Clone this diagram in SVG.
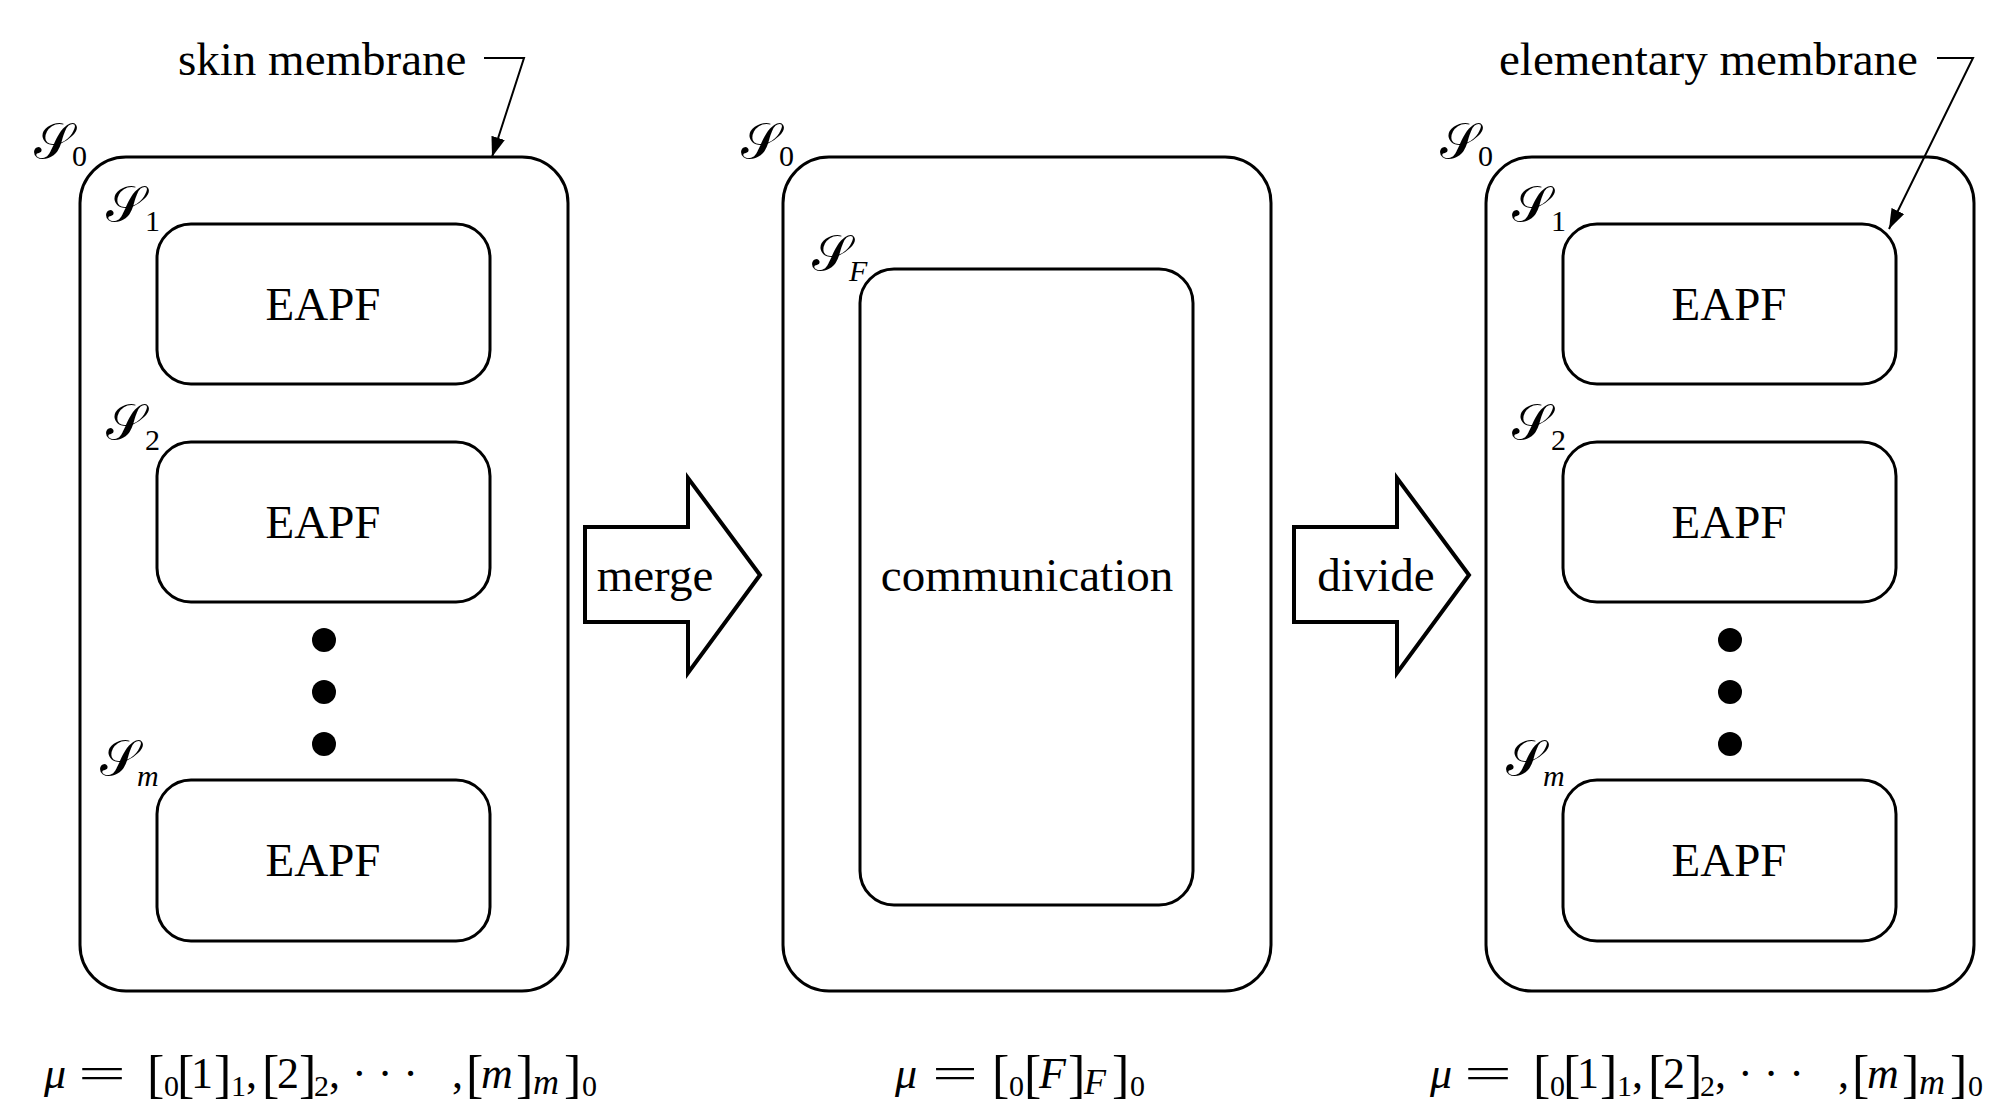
<svg xmlns="http://www.w3.org/2000/svg" width="1992" height="1106" viewBox="0 0 1992 1106">
  <style>
    .mem { fill: none; stroke: #000; stroke-width: 3; }
    .blk { fill: #fff; stroke: #000; stroke-width: 4; stroke-linejoin: miter; }
    .ptr { fill: none; stroke: #000; stroke-width: 2; }
    .lbl { font-family: "Liberation Serif", "Times New Roman", serif; font-size: 47px; fill: #000; }
    .mid { text-anchor: middle; }
    .cal { font-family: "DejaVu Serif", "Liberation Serif", serif; font-size: 50px; fill: #000; }
    .sub { font-family: "Liberation Serif", serif; font-size: 30px; fill: #000; }
    .it { font-style: italic; }
    .math { font-family: "Liberation Serif", serif; font-size: 44px; fill: #000; }
    .msub { font-family: "Liberation Serif", serif; font-size: 30px; fill: #000; }
    .msub-l { font-family: "Liberation Serif", serif; font-size: 36px; font-style: italic; fill: #000; }
    .br { font-family: "Liberation Serif", serif; font-size: 52px; fill: #000; }
    .dot { fill: #000; }
  </style>
  <defs>
    <marker id="tip" viewBox="0 0 20 14" refX="20" refY="7" markerWidth="20" markerHeight="14" markerUnits="userSpaceOnUse" orient="auto">
      <path d="M0,0 L20,7 L0,14 Z" fill="#000"/>
    </marker>
  </defs>
  <rect width="1992" height="1106" fill="#fff"/>

  <!-- left system: skin membrane with m elementary membranes -->
  <g id="left-skin">
    <rect class="mem" x="80" y="157" width="488" height="834" rx="46" ry="46"/>
    <text class="cal" x="34" y="158">𝒮</text><text class="sub" x="72" y="166">0</text>
  </g>
  <g id="left-s1">
    <rect class="mem" x="157" y="224" width="333" height="160" rx="34" ry="34"/>
    <text class="cal" x="106" y="221">𝒮</text><text class="sub" x="145" y="231">1</text>
    <text class="lbl mid" x="323" y="320">EAPF</text>
  </g>
  <g id="left-s2">
    <rect class="mem" x="157" y="442" width="333" height="160" rx="34" ry="34"/>
    <text class="cal" x="106" y="439">𝒮</text><text class="sub" x="145" y="450">2</text>
    <text class="lbl mid" x="323" y="538">EAPF</text>
  </g>
  <g id="left-dots">
    <circle class="dot" cx="324" cy="640" r="12"/>
    <circle class="dot" cx="324" cy="692" r="12"/>
    <circle class="dot" cx="324" cy="744" r="12"/>
  </g>
  <g id="left-sm">
    <rect class="mem" x="157" y="780" width="333" height="161" rx="34" ry="34"/>
    <text class="cal" x="100" y="775">𝒮</text><text class="sub it" x="137" y="786">m</text>
    <text class="lbl mid" x="323" y="876">EAPF</text>
  </g>
  <g id="left-formula">
    <text class="math it" x="44" y="1088">μ</text>
    <text class="math" x="78" y="1088" textLength="48" lengthAdjust="spacingAndGlyphs">=</text>
    <text class="br" x="147" y="1092">[</text><text class="msub" x="164" y="1096">0</text>
    <text class="br" x="177" y="1092">[</text><text class="math" x="191" y="1088">1</text>
    <text class="br" x="214" y="1092">]</text><text class="msub" x="231" y="1096">1</text>
    <text class="math" x="246" y="1088">,</text>
    <text class="br" x="262" y="1092">[</text><text class="math" x="277" y="1088">2</text>
    <text class="br" x="299" y="1092">]</text><text class="msub" x="314" y="1096">2</text>
    <text class="math" x="329" y="1088">,</text>
    <text class="math" x="352" y="1088">· · ·</text>
    <text class="math" x="452" y="1088">,</text>
    <text class="br" x="466" y="1092">[</text><text class="math it" x="481" y="1088">m</text>
    <text class="br" x="516" y="1092">]</text><text class="msub-l" x="533" y="1094">m</text>
    <text class="br" x="564" y="1092">]</text><text class="msub" x="582" y="1096">0</text>
  </g>

  <!-- middle system: merged membrane -->
  <g id="mid-skin">
    <rect class="mem" x="783" y="157" width="488" height="834" rx="46" ry="46"/>
    <text class="cal" x="741" y="158">𝒮</text><text class="sub" x="779" y="166">0</text>
  </g>
  <g id="mid-sf">
    <rect class="mem" x="860" y="269" width="333" height="636" rx="34" ry="34"/>
    <text class="cal" x="812" y="270">𝒮</text><text class="sub it" x="849" y="281">F</text>
    <text class="lbl mid" x="1027" y="591">communication</text>
  </g>
  <g id="mid-formula">
    <text class="math it" x="895" y="1088">μ</text>
    <text class="math" x="932" y="1088" textLength="46" lengthAdjust="spacingAndGlyphs">=</text>
    <text class="br" x="992" y="1092">[</text><text class="msub" x="1009" y="1096">0</text>
    <text class="br" x="1024" y="1092">[</text><text class="math it" x="1039" y="1088">F</text>
    <text class="br" x="1068" y="1092">]</text><text class="msub-l" x="1084" y="1094">F</text>
    <text class="br" x="1112" y="1092">]</text><text class="msub" x="1130" y="1096">0</text>
  </g>

  <!-- right system: divided membranes -->
  <g id="right-skin">
    <rect class="mem" x="1486" y="157" width="488" height="834" rx="46" ry="46"/>
    <text class="cal" x="1440" y="158">𝒮</text><text class="sub" x="1478" y="166">0</text>
  </g>
  <g id="right-s1">
    <rect class="mem" x="1563" y="224" width="333" height="160" rx="34" ry="34"/>
    <text class="cal" x="1512" y="221">𝒮</text><text class="sub" x="1551" y="231">1</text>
    <text class="lbl mid" x="1729" y="320">EAPF</text>
  </g>
  <g id="right-s2">
    <rect class="mem" x="1563" y="442" width="333" height="160" rx="34" ry="34"/>
    <text class="cal" x="1512" y="439">𝒮</text><text class="sub" x="1551" y="450">2</text>
    <text class="lbl mid" x="1729" y="538">EAPF</text>
  </g>
  <g id="right-dots">
    <circle class="dot" cx="1730" cy="640" r="12"/>
    <circle class="dot" cx="1730" cy="692" r="12"/>
    <circle class="dot" cx="1730" cy="744" r="12"/>
  </g>
  <g id="right-sm">
    <rect class="mem" x="1563" y="780" width="333" height="161" rx="34" ry="34"/>
    <text class="cal" x="1506" y="775">𝒮</text><text class="sub it" x="1543" y="786">m</text>
    <text class="lbl mid" x="1729" y="876">EAPF</text>
  </g>
  <g id="right-formula">
    <text class="math it" x="1430" y="1088">μ</text>
    <text class="math" x="1464" y="1088" textLength="48" lengthAdjust="spacingAndGlyphs">=</text>
    <text class="br" x="1533" y="1092">[</text><text class="msub" x="1550" y="1096">0</text>
    <text class="br" x="1563" y="1092">[</text><text class="math" x="1577" y="1088">1</text>
    <text class="br" x="1600" y="1092">]</text><text class="msub" x="1617" y="1096">1</text>
    <text class="math" x="1632" y="1088">,</text>
    <text class="br" x="1648" y="1092">[</text><text class="math" x="1663" y="1088">2</text>
    <text class="br" x="1685" y="1092">]</text><text class="msub" x="1700" y="1096">2</text>
    <text class="math" x="1715" y="1088">,</text>
    <text class="math" x="1738" y="1088">· · ·</text>
    <text class="math" x="1838" y="1088">,</text>
    <text class="br" x="1852" y="1092">[</text><text class="math it" x="1867" y="1088">m</text>
    <text class="br" x="1902" y="1092">]</text><text class="msub-l" x="1919" y="1094">m</text>
    <text class="br" x="1950" y="1092">]</text><text class="msub" x="1968" y="1096">0</text>
  </g>

  <!-- annotations -->
  <g id="note-skin">
    <text class="lbl" x="178" y="75">skin membrane</text>
  </g>
  <g id="note-elementary">
    <text class="lbl" x="1499" y="75">elementary membrane</text>
  </g>

  <!-- connectors: block arrows and pointer lines -->
  <g id="connectors">
    <path class="blk" d="M585,527 L688,527 L688,478 L760,575 L688,673 L688,622 L585,622 Z"/>
    <text class="lbl mid" x="655" y="591">merge</text>
    <path class="blk" d="M1294,527 L1397,527 L1397,478 L1469,575 L1397,673 L1397,622 L1294,622 Z"/>
    <text class="lbl mid" x="1376" y="591">divide</text>
    <path class="ptr" d="M484,58 L524,58 L492,157" marker-end="url(#tip)"/>
    <path class="ptr" d="M1937,58 L1973,58 L1889,229" marker-end="url(#tip)"/>
  </g>
</svg>
